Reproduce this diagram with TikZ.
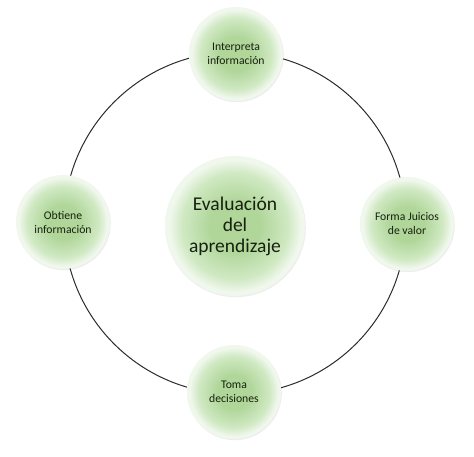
\documentclass[tikz,border=0pt]{standalone}
\usepackage{fontspec}
\setmainfont{Carlito}
\usetikzlibrary{shadows}
\definecolor{gin}{HTML}{B0D69A}
\definecolor{gmid}{HTML}{D0E9C3}
\definecolor{gout}{HTML}{F0F7EC}
\definecolor{txt}{HTML}{17210F}
\definecolor{ring}{HTML}{2B2B2B}
\pgfdeclareradialshading{nodeglow}{\pgfpoint{0bp}{0bp}}{color(0bp)=(gin); color(9bp)=(gin); color(19bp)=(gmid); color(23.5bp)=(gout); color(25bp)=(gout); color(50bp)=(gout)}
\tikzset{
  bubble/.style={circle, shading=nodeglow, text=txt, align=center, inner sep=0pt,
    drop shadow={opacity=0.14, shadow xshift=0.8pt, shadow yshift=-1.2pt}},
  small/.style={bubble, minimum size=94pt, font=\fontsize{11.7}{14}\selectfont},
  big/.style={bubble, minimum size=140pt, font=\fontsize{19.5}{21}\selectfont},
  ringline/.style={draw=ring, line width=1pt}
}
\begin{document}
\begin{tikzpicture}[x=1pt,y=-1pt]
\useasboundingbox (0,0) rectangle (474,457);
\coordinate (o) at (235,223);
\draw[ringline] (o) circle[radius=171];
\node[small] (top) at (236,54) {Interpreta\\información};
\node[small] (left) at (63,222) {Obtiene\\información};
\node[small] (right) at (407,224) {Forma Juicios\\de valor};
\node[small] (bottom) at (234,392) {Toma\\decisiones};
\node[big] (center) at (235,226) {Evaluación\\del\\aprendizaje};
\end{tikzpicture}
\end{document}
